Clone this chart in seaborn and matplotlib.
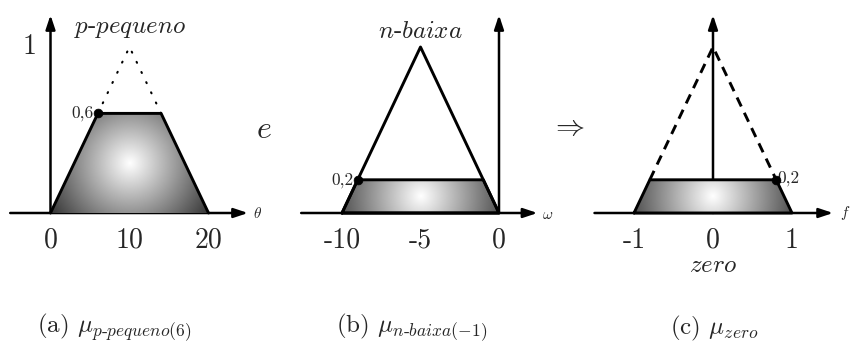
import numpy as np
import matplotlib
matplotlib.use("Agg")
import matplotlib.pyplot as plt
import seaborn as sns
from matplotlib.patches import Polygon

sns.set_theme(style="white")
plt.rcParams.update({
    "font.family": "serif",
    "font.serif": ["cmr10", "DejaVu Serif"],
    "mathtext.fontset": "cm",
    "axes.formatter.use_mathtext": True,
})

# Triangular membership functions: (left foot, peak, right foot)
p_pequeno = [0, 10, 20]
n_baixa = [-10, -5, 0]
zero = [-1, 0, 1]

theta_ticks = [0, 10, 20]
omega_ticks = [-10, -5, 0]
f_ticks = [-1, 0, 1]

theta_in = 6     # crisp input for p-pequeno
omega_in = -1    # crisp input for n-baixa

W, H = 850, 345
LW = 2.1


def tri_mu(tri, x):
    a, b, c = tri
    if x <= a or x >= c:
        return 0.0
    return (x - a) / (b - a) if x <= b else (c - x) / (c - b)


def cut(tri, alpha):
    a, b, c = tri
    xl = a + alpha * (b - a)
    xr = c - alpha * (c - b)
    return [a, xl, xr, c], [0, alpha, alpha, 0]


fig = plt.figure(figsize=(W / 100, H / 100), dpi=100)


def panel(L, R, x0, sx, y0=213, sy=166):
    ax = fig.add_axes([L / W, 0, (R - L) / W, 1])
    lims = ((L - x0) / sx, (R - x0) / sx), ((y0 - H) / sy, y0 / sy)
    ax.axis("off")
    return ax, lims, sx, sy


def finish(ax, lims):
    ax.set_xlim(*lims[0])
    ax.set_ylim(*lims[1])


def arrow(ax, start, tip):
    ax.annotate("", xy=tip, xytext=start,
                arrowprops=dict(arrowstyle="-|>,head_length=0.42,head_width=0.14",
                                lw=1.8, color="black", shrinkA=0, shrinkB=0,
                                mutation_scale=20),
                zorder=1)


def shade(ax, xs, ys, sx, sy):
    pts = np.column_stack([xs, ys])
    poly = Polygon(pts, closed=True, facecolor="none", edgecolor="none")
    ax.add_patch(poly)
    x0, x1 = min(xs), max(xs)
    y0, y1 = min(ys), max(ys)
    cx, cy = (x0 + x1) / 2, (y0 + y1) / 2
    gx = np.linspace(x0, x1, 400)
    gy = np.linspace(y0, y1, 200)
    X, Y = np.meshgrid(gx, gy)
    d = np.hypot((X - cx) * sx, (Y - cy) * sy)
    val = np.clip(1 - 0.0085 * d, 0.1, 1)
    im = ax.imshow(val, extent=[x0, x1, y0, y1], cmap="gray", vmin=0, vmax=1,
                   origin="lower", aspect="auto", interpolation="bilinear", zorder=2)
    im.set_clip_path(poly)


def outline(ax, xs, ys):
    sns.lineplot(x=list(xs) + [xs[0]], y=list(ys) + [ys[0]], sort=False,
                 estimator=None, color="black", lw=LW, ax=ax, zorder=3)


def broken(ax, xs, ys, lw, pattern, cap):
    sns.lineplot(x=xs, y=ys, sort=False, estimator=None, color="black", lw=lw,
                 ax=ax, zorder=3)
    ln = ax.lines[-1]
    ln.set_dashes(pattern)
    ln.set_dash_capstyle(cap)


def dot(ax, x, y):
    sns.scatterplot(x=[x], y=[y], color="black", s=40, edgecolor="black",
                    ax=ax, zorder=5)


mu_a = tri_mu(p_pequeno, theta_in)
mu_b = tri_mu(n_baixa, omega_in)
mu_c = min(mu_a, mu_b)

tick_kw = dict(fontsize=20, ha="center", va="center")
name_fs = 18
val_fs = 12.5

# ---- (a) p-pequeno ----
ax, lims, sx, sy = panel(0, 280, 50.5, 7.9)
arrow(ax, (-5.1, 0), (25.0, 0))
arrow(ax, (0, 0), (0, (213 - 15) / sy))
xs, ys = cut(p_pequeno, mu_a)
shade(ax, xs, ys, sx, sy)
sns.lineplot(x=xs, y=ys, sort=False, estimator=None, color="black", lw=LW,
             ax=ax, zorder=3)
broken(ax, [xs[1], p_pequeno[1], xs[2]], [mu_a, 1, mu_a], 1.5, [0.5, 4.9], "round")
dot(ax, xs[1], mu_a)
ax.text(xs[1] - 0.5, mu_a, f"{mu_a:.1f}".replace(".", ","), fontsize=val_fs,
        ha="right", va="center")
for t in theta_ticks:
    ax.text(t, -0.165, f"{t}", **tick_kw)
ax.text(-2.6, 1.0, "1", **tick_kw)
ax.text(p_pequeno[1], 1.11, r"$p$-$pequeno$", fontsize=name_fs, ha="center", va="center")
ax.text(26.2, 0.0, r"$\theta$", fontsize=11, ha="center", va="center")
ax.text(27.0, (213 - 130) / sy, r"$e$", fontsize=23, ha="center", va="center")
finish(ax, lims)

# ---- (b) n-baixa ----
ax, lims, sx, sy = panel(280, 565, 499, 15.7)
arrow(ax, (-12.6, 0), (2.45, 0))
arrow(ax, (0, 0), (0, (213 - 15) / sy))
outline(ax, n_baixa, [0, 1, 0])
xs, ys = cut(n_baixa, mu_c)
shade(ax, xs, ys, sx, sy)
outline(ax, xs, ys)
dot(ax, xs[1], mu_c)
ax.text(xs[1] - 0.25, mu_c, f"{mu_c:.1f}".replace(".", ","), fontsize=val_fs,
        ha="right", va="center")
for t in omega_ticks:
    ax.text(t, -0.165, f"{t}", **tick_kw)
ax.text(n_baixa[1], 1.09, r"$n$-$baixa$", fontsize=name_fs, ha="center", va="center")
ax.text(3.1, -0.01, r"$\omega$", fontsize=11, ha="center", va="center")
ax.text((567 - 499) / sx, (213 - 128) / sy, r"$\Rightarrow$", fontsize=21,
        ha="center", va="center")
finish(ax, lims)

# ---- (c) zero ----
ax, lims, sx, sy = panel(565, 850, 713, 79)
arrow(ax, (-1.5, 0), (1.52, 0))
arrow(ax, (0, 0), (0, (213 - 15) / sy))
xs, ys = cut(zero, mu_c)
shade(ax, xs, ys, sx, sy)
outline(ax, xs, ys)
broken(ax, [xs[1], zero[1], xs[2]], [mu_c, 1, mu_c], LW, [3.4, 2.4], "butt")
dot(ax, xs[2], mu_c)
ax.text(xs[2] + 0.02, mu_c + 0.01, f"{mu_c:.1f}".replace(".", ","), fontsize=val_fs,
        ha="left", va="center")
for t in f_ticks:
    ax.text(t, -0.165, f"{t}", **tick_kw)
ax.text(0, (213 - 266) / sy, r"$zero$", fontsize=name_fs, ha="center", va="center")
ax.text(1.67, 0.0, r"$f$", fontsize=11, ha="center", va="center")
finish(ax, lims)

# ---- captions ----
cap_kw = dict(fontsize=18, ha="left", va="center")
fig.text(37 / W, 1 - 328 / H, r"(a) $\mu_{p\text{-}pequeno(6)}$", **cap_kw)
fig.text(336 / W, 1 - 328 / H, r"(b) $\mu_{n\text{-}baixa(-1)}$", **cap_kw)
fig.text(670 / W, 1 - 328 / H, r"(c) $\mu_{zero}$", **cap_kw)

fig.savefig("out.png", dpi=100, facecolor="white")
